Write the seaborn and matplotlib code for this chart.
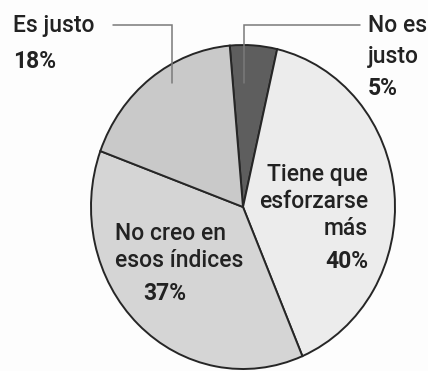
import matplotlib
matplotlib.use("Agg")
import matplotlib.pyplot as plt
import seaborn as sns

# Data (clockwise from top)
labels = ["No es justo", "Tiene que esforzarse más", "No creo en esos índices", "Es justo"]
values = [5, 40, 37, 18]
colors = ["#5e5e5e", "#ececec", "#d5d5d5", "#c9c9c9"]
pct_text = ["5%", "40%", "37%", "18%"]

sns.set_theme(style="white")
plt.rcParams["font.family"] = ["Roboto", "DejaVu Sans"]

W, H = 428, 371
fig = plt.figure(figsize=(W / 100, H / 100), dpi=100)
fig.patch.set_facecolor("#fdfdfd")
ax = fig.add_axes([0, 0, 1, 1])
ax.set_facecolor("#fdfdfd")

wedges, _ = ax.pie(values, colors=colors, startangle=95, counterclock=False,
                   wedgeprops=dict(edgecolor="#262626", linewidth=1.4))
ax.set_aspect("auto")
# pixel geometry of the pie: center (243, 207), radii 152 (x), 162 (y)
cx, cy, rx, ry = 243, 207, 152, 162
ax.set_xlim((0 - cx) / rx, (W - cx) / rx)
ax.set_ylim((cy - H) / ry, (cy - 0) / ry)
ax.axis("off")


def P(x, y):
    return x / W, 1 - y / H


tc = "#222222"
fs = 16.5


def txt(x, y, s, ha="left", bold=False):
    ax.text(*P(x, y), s, transform=ax.transAxes, ha=ha, va="baseline",
            fontsize=fs, color=tc, fontweight="bold" if bold else "medium")


# Outside labels
txt(13, 32, "Es justo")
txt(13, 68, pct_text[3], bold=True)
txt(368, 32, "No es")
txt(368, 63, "justo")
txt(368, 95, pct_text[0], bold=True)

# Inside labels
txt(368, 181, "Tiene que", ha="right")
txt(368, 208, "esforzarse", ha="right")
txt(368, 235, "más", ha="right")
txt(368, 268, pct_text[1], ha="right", bold=True)

txt(115, 240, "No creo en")
txt(115, 267, "esos índices")
txt(165, 300, pct_text[2], ha="center", bold=True)

# Leader lines
lc = "#7a7a7a"
x1, y1 = zip(P(113, 25), P(172, 25), P(172, 83))
ax.plot(x1, y1, transform=ax.transAxes, color=lc, lw=1.1, solid_joinstyle="miter")
x2, y2 = zip(P(244, 83), P(244, 25), P(360, 25))
ax.plot(x2, y2, transform=ax.transAxes, color=lc, lw=1.1, solid_joinstyle="miter")

fig.savefig("out.png", dpi=100, facecolor=fig.get_facecolor())
